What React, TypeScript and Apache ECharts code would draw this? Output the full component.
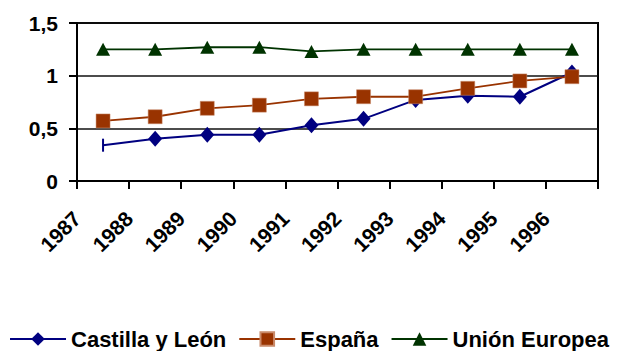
import React, { useEffect, useRef } from "react";
import * as echarts from "echarts";

const years = ["1987", "1988", "1989", "1990", "1991", "1992", "1993", "1994", "1995", "1996"];
const castillaLeon = [0.34, 0.4, 0.44, 0.44, 0.53, 0.59, 0.77, 0.81, 0.8, 1.03];
const espana = [0.57, 0.61, 0.69, 0.72, 0.78, 0.8, 0.8, 0.88, 0.95, 0.99];
const unionEuropea = [1.25, 1.25, 1.27, 1.27, 1.23, 1.25, 1.25, 1.25, 1.25, 1.25];
const seriesNames = ["Castilla y León", "España", "Unión Europea"];

const FONT = "'Liberation Sans', Arial, sans-serif";

export default function App() {
  const ref = useRef<HTMLDivElement>(null);
  useEffect(() => {
    if (!ref.current) return;
    const chart = echarts.init(ref.current, undefined, { renderer: "svg" });
    const clData = castillaLeon.map((v, i) =>
      i === 0 ? { value: v, symbol: "rect", symbolSize: [2, 13] } : v
    );
    chart.setOption({
      animation: false,
      backgroundColor: "#ffffff",
      textStyle: { fontFamily: FONT },
      grid: {
        left: 77,
        right: 20,
        top: 23,
        bottom: 170,
        show: true,
        borderColor: "#000",
        borderWidth: 2,
      },
      legend: {
        left: "center",
        top: 322,
        itemWidth: 56,
        itemHeight: 17,
        itemGap: 12,
        data: seriesNames,
        textStyle: { fontFamily: FONT, fontWeight: "bold", fontSize: 22, color: "#000", lineHeight: 24 },
      },
      xAxis: [
        {
          type: "category",
          data: years,
          boundaryGap: true,
          axisLine: { show: true, lineStyle: { color: "#000", width: 2 } },
          axisTick: { show: true, length: 8, lineStyle: { color: "#000", width: 2 } },
          axisLabel: { show: false },
          splitLine: { show: false },
        },
        {
          type: "category",
          data: [...years, ""],
          boundaryGap: false,
          position: "bottom",
          axisLine: { show: false },
          axisTick: { show: false },
          splitLine: { show: false },
          axisLabel: {
            show: true,
            interval: 0,
            rotate: 45,
            margin: 34,
            padding: [14, 0, 0, 0],
            fontFamily: FONT,
            fontWeight: "bold",
            fontSize: 21,
            color: "#000",
          },
        },
      ],
      yAxis: {
        type: "value",
        min: 0,
        max: 1.5,
        interval: 0.5,
        axisLine: { show: true, lineStyle: { color: "#000", width: 2 } },
        axisTick: { show: true, length: 8, lineStyle: { color: "#000", width: 2 } },
        axisLabel: {
          margin: 19,
          fontFamily: FONT,
          fontWeight: "bold",
          fontSize: 21,
          color: "#000",
          formatter: (v: number) => String(v).replace(".", ","),
        },
        splitLine: { show: true, lineStyle: { color: "#111", width: 1.5 } },
      },
      series: [
        {
          name: seriesNames[0],
          type: "line",
          data: clData,
          symbol: "diamond",
          symbolSize: [14, 16],
          itemStyle: { color: "#000080" },
          lineStyle: { color: "#000080", width: 2 },
        },
        {
          name: seriesNames[1],
          type: "line",
          data: espana,
          symbol: "rect",
          symbolSize: 14,
          itemStyle: { color: "#993300", borderColor: "#c98a6a", borderWidth: 0.5 },
          lineStyle: { color: "#993300", width: 1.8 },
        },
        {
          name: seriesNames[2],
          type: "line",
          data: unionEuropea,
          symbol: "triangle",
          symbolSize: [14, 13],
          itemStyle: { color: "#003300" },
          lineStyle: { color: "#003300", width: 1.8 },
        },
      ],
    });
    return () => chart.dispose();
  }, []);
  return (
    <div
      ref={ref}
      style={{ position: "fixed", left: 0, top: 0, width: 618, height: 351 }}
    />
  );
}
